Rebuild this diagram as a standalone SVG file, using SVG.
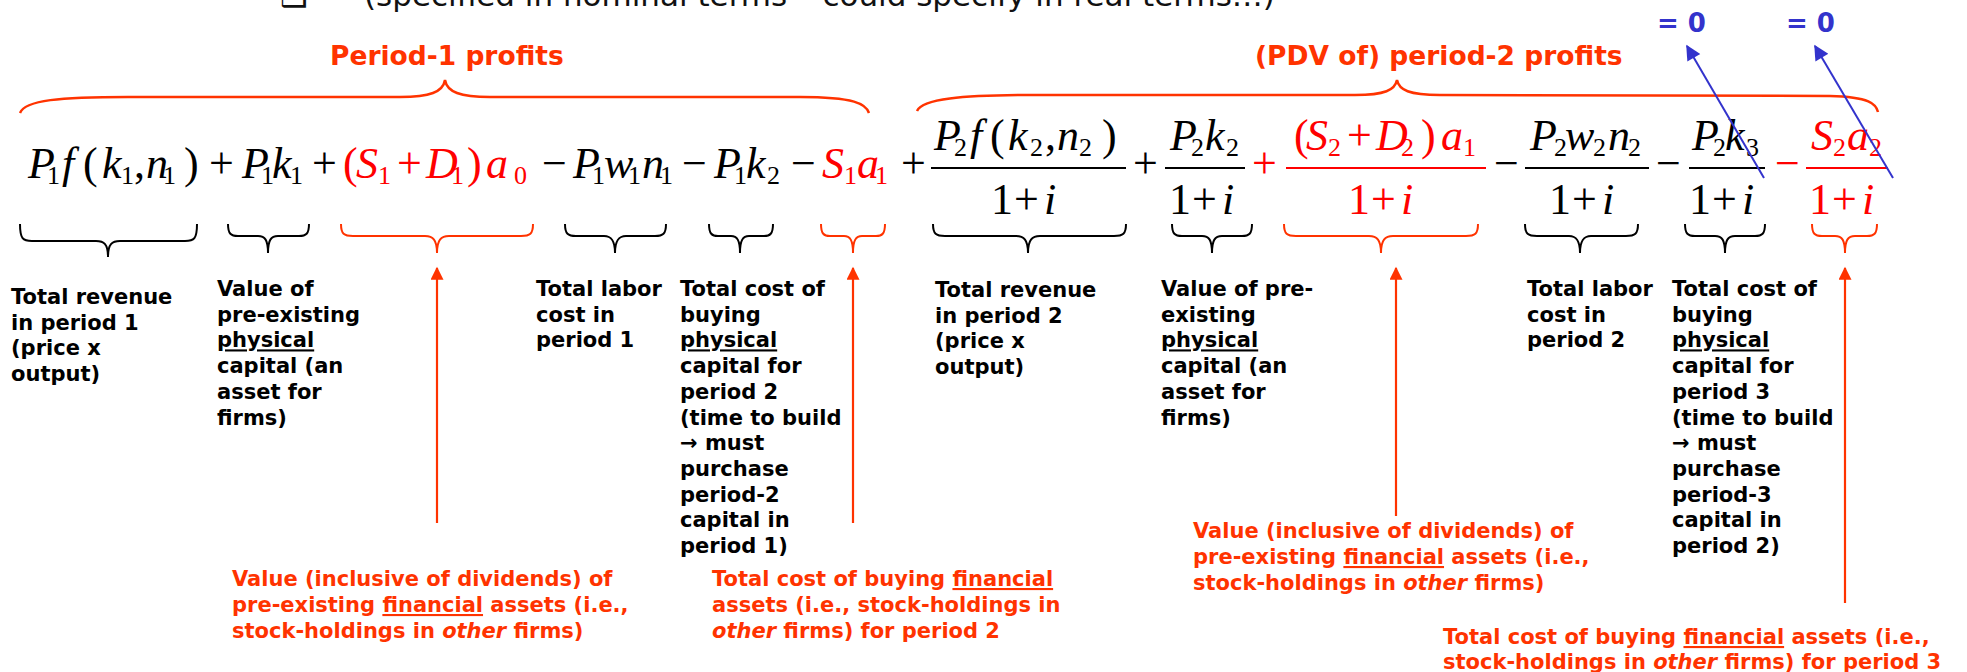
<svg xmlns="http://www.w3.org/2000/svg" width="1967" height="672" viewBox="0 0 1967 672">
<style>
.m{font-family:"Liberation Serif","Times New Roman",serif;font-size:44px}
.it{font-style:italic}
.s{font-size:26px}
.k{fill:#000}
.r{fill:#FF0000}
.lbl{font-family:"DejaVu Sans",Verdana,sans-serif;font-weight:bold;font-size:21px;fill:#000}
.olbl{font-family:"DejaVu Sans",Verdana,sans-serif;font-weight:bold;font-size:21px;fill:#FF3300}
.hd{font-family:"DejaVu Sans",Verdana,sans-serif;font-weight:bold;font-size:26.5px;fill:#FF3300}
.zero{font-family:"DejaVu Sans",Verdana,sans-serif;font-weight:bold;font-size:26px;fill:#3333CC}
.top{font-family:"DejaVu Sans",Verdana,sans-serif;font-size:31px;fill:#111}
.u{text-decoration:underline}
.i{font-style:italic}
.bb{fill:none;stroke:#000;stroke-width:2}
.rb{fill:none;stroke:#FF3300;stroke-width:2}
.tb{fill:none;stroke:#FF3300;stroke-width:2.5}
.bar{stroke-width:2.2}
.oa{stroke:#FF3300;stroke-width:2.2;fill:none;marker-end:url(#ah-o)}
.ba{stroke:#3333CC;stroke-width:2;fill:none;marker-end:url(#ah-b)}
</style>
<defs>
<marker id="ah-o" viewBox="0 0 10 10" refX="9" refY="5" markerWidth="16" markerHeight="13" markerUnits="userSpaceOnUse" orient="auto"><path d="M0,0 L10,5 L0,10 z" fill="#FF3300"/></marker>
<marker id="ah-b" viewBox="0 0 10 10" refX="9" refY="5" markerWidth="20" markerHeight="15" markerUnits="userSpaceOnUse" orient="auto"><path d="M0,0 L10,5 L0,10 z" fill="#3333CC"/></marker>
</defs>
<rect width="1967" height="672" fill="#fff"/>

<g id="header-line">
<text class="top" x="280" y="6" font-size="20">❑</text>
<text class="top" x="364" y="6">(specified in nominal terms – could specify in real terms…)</text>
</g>

<g id="period1-heading">
<text class="hd" x="330" y="65">Period-1 profits</text>
<path class="tb" d="M20,113 C25,100 60,97 128,97 L400,97 C430,97 443,92 445,80 C447,92 460,97 490,97 L800,97 C855,97 866,104 869,113"/>
</g>
<g id="period2-heading">
<text class="hd" x="1255" y="65">(PDV of) period-2 profits</text>
<path class="tb" d="M917,111 C922,99 960,95 1036,95 L1355,95 C1385,95 1395,90 1397,80 C1399,90 1409,95 1440,95 L1830,96 C1870,97 1876,104 1878,112"/>
</g>

<g id="zero1"><text class="zero" x="1657" y="32">= 0</text></g>
<g id="zero2"><text class="zero" x="1786" y="32">= 0</text></g>

<g id="operators">
<text class="m k"><tspan x="209" y="178">+</tspan><tspan x="312" y="178">+</tspan><tspan x="542" y="178">−</tspan><tspan x="682" y="178">−</tspan><tspan x="791" y="178">−</tspan><tspan x="901" y="178">+</tspan><tspan x="1133" y="178">+</tspan><tspan x="1494" y="178">−</tspan><tspan x="1656" y="178">−</tspan></text>
<text class="m r"><tspan x="1252" y="178">+</tspan><tspan x="1775" y="178">−</tspan></text>
</g>

<g id="term-revenue1">
<text class="m k"><tspan class="it" x="28" y="178">P</tspan><tspan class="s" x="47" y="184">1</tspan><tspan class="it" x="62" y="178">f</tspan><tspan x="83" y="178">(</tspan><tspan class="it" x="102" y="178">k</tspan><tspan class="s" x="121" y="184">1</tspan><tspan x="134" y="178">,</tspan><tspan class="it" x="146" y="178">n</tspan><tspan class="s" x="163" y="184">1</tspan><tspan x="184" y="178">)</tspan></text>
<path class="bb" d="M20,224 C20,239 23,241 32,241 L96,241 C104,241 108,244 108,257 C108,244 112,241 120,241 L185,241 C194,241 197,239 197,224"/>
<text class="lbl"><tspan x="11" y="304">Total revenue</tspan><tspan x="11" dy="25.7">in period 1</tspan><tspan x="11" dy="25.7">(price x</tspan><tspan x="11" dy="25.7">output)</tspan></text>
</g>

<g id="term-capital1">
<text class="m k"><tspan class="it" x="242" y="178">P</tspan><tspan class="s" x="261" y="184">1</tspan><tspan class="it" x="272" y="178">k</tspan><tspan class="s" x="290" y="184">1</tspan></text>
<path class="bb" d="M228,224 C228,234 231,236 238,236 L258,236 C265,236 268,240 268,253 C268,240 271,236 278,236 L299,236 C306,236 309,234 309,224"/>
<text class="lbl"><tspan x="217" y="296">Value of</tspan><tspan x="217" dy="25.7">pre-existing</tspan><tspan x="217" dy="25.7" class="u">physical</tspan><tspan x="217" dy="25.7">capital (an</tspan><tspan x="217" dy="25.7">asset for</tspan><tspan x="217" dy="25.7">firms)</tspan></text>
</g>

<g id="term-financial1">
<text class="m r"><tspan x="343" y="178">(</tspan><tspan class="it" x="356" y="178">S</tspan><tspan class="s" x="378" y="184">1</tspan><tspan x="397" y="178">+</tspan><tspan class="it" x="426" y="178">D</tspan><tspan class="s" x="451" y="184">1</tspan><tspan x="467" y="178">)</tspan><tspan class="it" x="486" y="178">a</tspan><tspan class="s" x="514" y="184">0</tspan></text>
<path class="rb" d="M341,224 C341,234 344,236 353,236 L425,236 C433,236 437,240 437,253 C437,240 441,236 449,236 L521,236 C530,236 533,234 533,224"/>
<text class="olbl"><tspan x="232" y="586">Value (inclusive of dividends) of</tspan><tspan x="232" dy="26">pre-existing <tspan class="u">financial</tspan> assets (i.e.,</tspan><tspan x="232" dy="26">stock-holdings in <tspan class="i">other</tspan> firms)</tspan></text>
</g>

<g id="term-labor1">
<text class="m k"><tspan class="it" x="573" y="178">P</tspan><tspan class="s" x="592" y="184">1</tspan><tspan class="it" x="604" y="178">w</tspan><tspan class="s" x="628" y="184">1</tspan><tspan class="it" x="642" y="178">n</tspan><tspan class="s" x="660" y="184">1</tspan></text>
<path class="bb" d="M565,224 C565,234 568,236 576,236 L604,236 C611,236 615,240 615,253 C615,240 619,236 626,236 L655,236 C663,236 666,234 666,224"/>
<text class="lbl"><tspan x="536" y="296">Total labor</tspan><tspan x="536" dy="25.7">cost in</tspan><tspan x="536" dy="25.7">period 1</tspan></text>
</g>

<g id="term-invest1">
<text class="m k"><tspan class="it" x="714" y="178">P</tspan><tspan class="s" x="734" y="184">1</tspan><tspan class="it" x="746" y="178">k</tspan><tspan class="s" x="767" y="184">2</tspan></text>
<path class="bb" d="M709,224 C709,234 712,236 718,236 L731,236 C737,236 740,240 740,253 C740,240 743,236 749,236 L764,236 C770,236 773,234 773,224"/>
<text class="lbl"><tspan x="680" y="296">Total cost of</tspan><tspan x="680" dy="25.7">buying</tspan><tspan x="680" dy="25.7" class="u">physical</tspan><tspan x="680" dy="25.7">capital for</tspan><tspan x="680" dy="25.7">period 2</tspan><tspan x="680" dy="25.7">(time to build</tspan><tspan x="680" dy="25.7">→ must</tspan><tspan x="680" dy="25.7">purchase</tspan><tspan x="680" dy="25.7">period-2</tspan><tspan x="680" dy="25.7">capital in</tspan><tspan x="680" dy="25.7">period 1)</tspan></text>
</g>

<g id="term-stock1">
<text class="m r"><tspan class="it" x="822" y="178">S</tspan><tspan class="s" x="844" y="184">1</tspan><tspan class="it" x="857" y="178">a</tspan><tspan class="s" x="875" y="184">1</tspan></text>
<path class="rb" d="M821,224 C821,234 824,236 830,236 L844,236 C850,236 853,240 853,253 C853,240 856,236 862,236 L876,236 C882,236 885,234 885,224"/>
<text class="olbl"><tspan x="712" y="586">Total cost of buying <tspan class="u">financial</tspan></tspan><tspan x="712" dy="26">assets (i.e., stock-holdings in</tspan><tspan x="712" dy="26"><tspan class="i">other</tspan> firms) for period 2</tspan></text>
</g>

<g id="term-revenue2">
<line class="bar" x1="931" y1="168" x2="1126" y2="168" stroke="#000"/>
<text class="m k"><tspan class="it" x="934" y="150">P</tspan><tspan class="s" x="954" y="156">2</tspan><tspan class="it" x="970" y="150">f</tspan><tspan x="990" y="150">(</tspan><tspan class="it" x="1008" y="150">k</tspan><tspan class="s" x="1030" y="156">2</tspan><tspan x="1045" y="150">,</tspan><tspan class="it" x="1057" y="150">n</tspan><tspan class="s" x="1079" y="156">2</tspan><tspan x="1102" y="150">)</tspan><tspan x="991" y="214">1</tspan><tspan x="1014" y="214">+</tspan><tspan class="it" x="1044" y="214">i</tspan></text>
<path class="bb" d="M933,224 C933,234 936,236 945,236 L1016,236 C1024,236 1028,240 1028,253 C1028,240 1032,236 1040,236 L1114,236 C1123,236 1126,234 1126,224"/>
<text class="lbl"><tspan x="935" y="297">Total revenue</tspan><tspan x="935" dy="25.7">in period 2</tspan><tspan x="935" dy="25.7">(price x</tspan><tspan x="935" dy="25.7">output)</tspan></text>
</g>

<g id="term-capital2">
<line class="bar" x1="1165" y1="168" x2="1245" y2="168" stroke="#000"/>
<text class="m k"><tspan class="it" x="1170" y="150">P</tspan><tspan class="s" x="1191" y="156">2</tspan><tspan class="it" x="1205" y="150">k</tspan><tspan class="s" x="1226" y="156">2</tspan><tspan x="1169" y="214">1</tspan><tspan x="1192" y="214">+</tspan><tspan class="it" x="1222" y="214">i</tspan></text>
<path class="bb" d="M1172,224 C1172,234 1175,236 1182,236 L1202,236 C1209,236 1212,240 1212,253 C1212,240 1215,236 1222,236 L1242,236 C1249,236 1252,234 1252,224"/>
<text class="lbl"><tspan x="1161" y="296">Value of pre-</tspan><tspan x="1161" dy="25.7">existing</tspan><tspan x="1161" dy="25.7" class="u">physical</tspan><tspan x="1161" dy="25.7">capital (an</tspan><tspan x="1161" dy="25.7">asset for</tspan><tspan x="1161" dy="25.7">firms)</tspan></text>
</g>

<g id="term-financial2">
<line class="bar" x1="1286" y1="168" x2="1486" y2="168" stroke="#FF0000"/>
<text class="m r"><tspan x="1294" y="150">(</tspan><tspan class="it" x="1306" y="150">S</tspan><tspan class="s" x="1328" y="156">2</tspan><tspan x="1347" y="150">+</tspan><tspan class="it" x="1376" y="150">D</tspan><tspan class="s" x="1401" y="156">2</tspan><tspan x="1421" y="150">)</tspan><tspan class="it" x="1441" y="150">a</tspan><tspan class="s" x="1463" y="156">1</tspan><tspan x="1348" y="214">1</tspan><tspan x="1371" y="214">+</tspan><tspan class="it" x="1401" y="214">i</tspan></text>
<path class="rb" d="M1284,224 C1284,234 1287,236 1296,236 L1369,236 C1377,236 1381,240 1381,253 C1381,240 1385,236 1393,236 L1466,236 C1475,236 1478,234 1478,224"/>
<text class="olbl"><tspan x="1193" y="538">Value (inclusive of dividends) of</tspan><tspan x="1193" dy="26">pre-existing <tspan class="u">financial</tspan> assets (i.e.,</tspan><tspan x="1193" dy="26">stock-holdings in <tspan class="i">other</tspan> firms)</tspan></text>
</g>

<g id="term-labor2">
<line class="bar" x1="1525" y1="168" x2="1649" y2="168" stroke="#000"/>
<text class="m k"><tspan class="it" x="1530" y="150">P</tspan><tspan class="s" x="1554" y="156">2</tspan><tspan class="it" x="1565" y="150">w</tspan><tspan class="s" x="1593" y="156">2</tspan><tspan class="it" x="1608" y="150">n</tspan><tspan class="s" x="1628" y="156">2</tspan><tspan x="1549" y="214">1</tspan><tspan x="1572" y="214">+</tspan><tspan class="it" x="1602" y="214">i</tspan></text>
<path class="bb" d="M1525,224 C1525,234 1528,236 1537,236 L1569,236 C1576,236 1580,240 1580,253 C1580,240 1584,236 1591,236 L1626,236 C1635,236 1638,234 1638,224"/>
<text class="lbl"><tspan x="1527" y="296">Total labor</tspan><tspan x="1527" dy="25.7">cost in</tspan><tspan x="1527" dy="25.7">period 2</tspan></text>
</g>

<g id="term-invest2">
<line class="bar" x1="1689" y1="168" x2="1765" y2="168" stroke="#000"/>
<text class="m k"><tspan class="it" x="1692" y="150">P</tspan><tspan class="s" x="1713" y="156">2</tspan><tspan class="it" x="1725" y="150">k</tspan><tspan class="s" x="1746" y="156">3</tspan><tspan x="1689" y="214">1</tspan><tspan x="1712" y="214">+</tspan><tspan class="it" x="1742" y="214">i</tspan></text>
<path class="bb" d="M1685,224 C1685,234 1688,236 1695,236 L1715,236 C1722,236 1725,240 1725,253 C1725,240 1728,236 1735,236 L1755,236 C1762,236 1765,234 1765,224"/>
<text class="lbl"><tspan x="1672" y="296">Total cost of</tspan><tspan x="1672" dy="25.7">buying</tspan><tspan x="1672" dy="25.7" class="u">physical</tspan><tspan x="1672" dy="25.7">capital for</tspan><tspan x="1672" dy="25.7">period 3</tspan><tspan x="1672" dy="25.7">(time to build</tspan><tspan x="1672" dy="25.7">→ must</tspan><tspan x="1672" dy="25.7">purchase</tspan><tspan x="1672" dy="25.7">period-3</tspan><tspan x="1672" dy="25.7">capital in</tspan><tspan x="1672" dy="25.7">period 2)</tspan></text>
</g>

<g id="term-stock2">
<line class="bar" x1="1806" y1="168" x2="1888" y2="168" stroke="#FF0000"/>
<text class="m r"><tspan class="it" x="1811" y="150">S</tspan><tspan class="s" x="1833" y="156">2</tspan><tspan class="it" x="1847" y="150">a</tspan><tspan class="s" x="1869" y="156">2</tspan><tspan x="1809" y="214">1</tspan><tspan x="1832" y="214">+</tspan><tspan class="it" x="1862" y="214">i</tspan></text>
<path class="rb" d="M1812,224 C1812,234 1815,236 1822,236 L1835,236 C1842,236 1845,240 1845,253 C1845,240 1848,236 1855,236 L1867,236 C1874,236 1877,234 1877,224"/>
<text class="olbl"><tspan x="1443" y="644">Total cost of buying <tspan class="u">financial</tspan> assets (i.e.,</tspan><tspan x="1443" dy="25">stock-holdings in <tspan class="i">other</tspan> firms) for period 3</tspan></text>
</g>

<g id="connectors">
<line class="oa" x1="437" y1="523" x2="437" y2="268"/>
<line class="oa" x1="853" y1="523" x2="853" y2="268"/>
<line class="oa" x1="1396" y1="516" x2="1396" y2="268"/>
<line class="oa" x1="1845" y1="603" x2="1845" y2="268"/>
<line class="ba" x1="1764" y1="178" x2="1687" y2="46"/>
<line class="ba" x1="1893" y1="178" x2="1815" y2="46"/>
</g>
</svg>
